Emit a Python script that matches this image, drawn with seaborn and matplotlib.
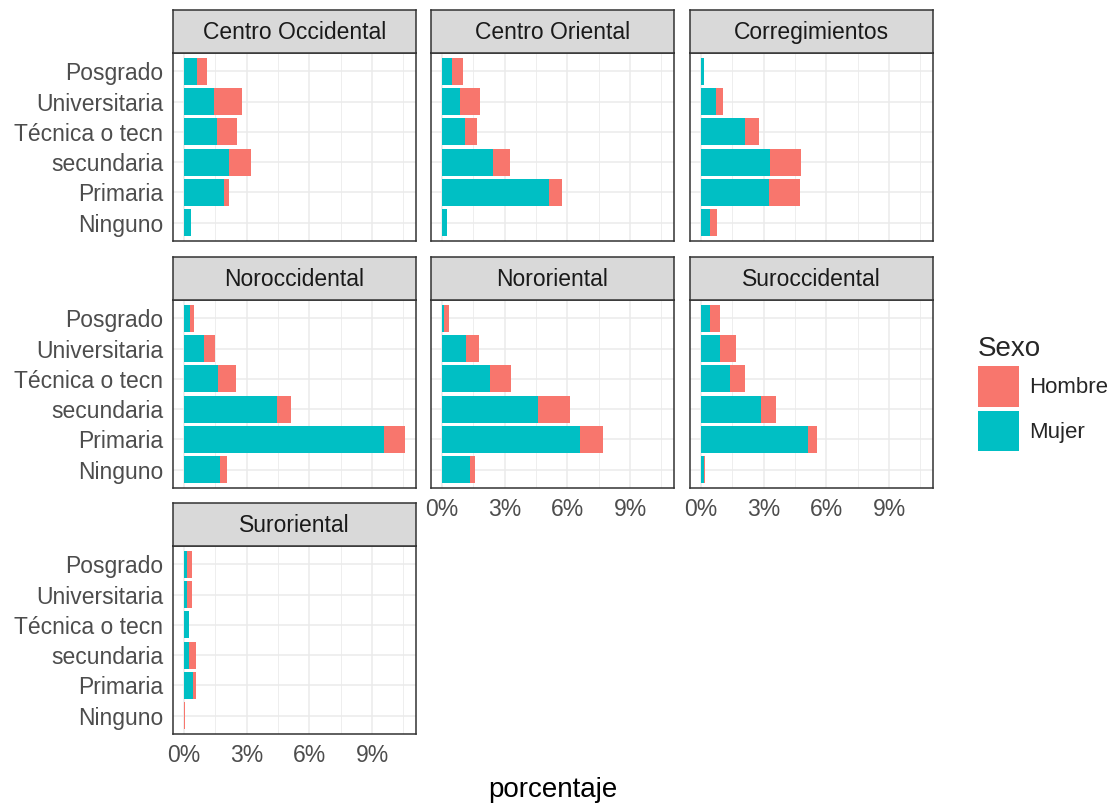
import matplotlib
matplotlib.use("Agg")
import matplotlib.pyplot as plt
from matplotlib.patches import Patch
from matplotlib.ticker import MultipleLocator, PercentFormatter
import pandas as pd
import seaborn as sns

# categorias
comunas = ["Centro Occidental", "Centro Oriental", "Corregimientos",
           "Noroccidental", "Nororiental", "Suroccidental", "Suroriental"]
niveles = ["Posgrado", "Universitaria", "Técnica o tecn",
           "secundaria", "Primaria", "Ninguno"]
sexos = ["Hombre", "Mujer"]

# porcentaje por nivel (mismo orden que niveles)
mujer_centro_occ = [0.64, 1.45, 1.58, 2.15, 1.89, 0.33]
hombre_centro_occ = [0.46, 1.32, 0.95, 1.05, 0.26, 0.00]
mujer_centro_ori = [0.48, 0.84, 1.10, 2.42, 5.14, 0.22]
hombre_centro_ori = [0.52, 0.96, 0.56, 0.83, 0.58, 0.00]
mujer_correg = [0.13, 0.72, 2.10, 3.31, 3.23, 0.45]
hombre_correg = [0.02, 0.35, 0.67, 1.45, 1.50, 0.31]
mujer_norocc = [0.27, 0.96, 1.64, 4.43, 9.57, 1.74]
hombre_norocc = [0.21, 0.54, 0.86, 0.68, 1.00, 0.30]
mujer_norori = [0.10, 1.15, 2.29, 4.60, 6.61, 1.34]
hombre_norori = [0.22, 0.63, 1.02, 1.53, 1.08, 0.24]
mujer_surocc = [0.41, 0.89, 1.40, 2.87, 5.10, 0.14]
hombre_surocc = [0.48, 0.80, 0.70, 0.73, 0.43, 0.03]
mujer_surori = [0.16, 0.16, 0.22, 0.25, 0.45, 0.01]
hombre_surori = [0.22, 0.22, 0.02, 0.31, 0.11, 0.02]

mujer = [mujer_centro_occ, mujer_centro_ori, mujer_correg, mujer_norocc,
         mujer_norori, mujer_surocc, mujer_surori]
hombre = [hombre_centro_occ, hombre_centro_ori, hombre_correg, hombre_norocc,
          hombre_norori, hombre_surocc, hombre_surori]

rows = []
for c, m, h in zip(comunas, mujer, hombre):
    for n, vm, vh in zip(niveles, m, h):
        rows.append({"comuna": c, "nivel": n, "Mujer": vm, "total": vm + vh})
df = pd.DataFrame(rows)

COL_H = "#F8766D"
COL_M = "#00BFC4"
DARK = "#333333"
GRID = "#EBEBEB"

sns.set_style("white")
plt.rcParams["font.family"] = ["Liberation Sans", "DejaVu Sans"]

W, H = 1116, 805
fig = plt.figure(figsize=(W / 100, H / 100), dpi=100)

col_left = [173, 431, 690]
row_top = [53, 300, 546]
pw, ph, sh = 243, 188, 43

xmax = df.total.max() * 1.05
xmin = -df.total.max() * 0.05

for i, c in enumerate(comunas):
    r, k = divmod(i, 3)
    x0, y0 = col_left[k], row_top[r]
    ax = fig.add_axes([x0 / W, 1 - (y0 + ph) / H, pw / W, ph / H])
    sub = df[df.comuna == c]
    sns.barplot(data=sub, y="nivel", x="total", order=niveles, color=COL_H,
                saturation=1, width=0.9, errorbar=None, orient="h", ax=ax,
                linewidth=0)
    sns.barplot(data=sub, y="nivel", x="Mujer", order=niveles, color=COL_M,
                saturation=1, width=0.9, errorbar=None, orient="h", ax=ax,
                linewidth=0)
    ax.set_xlim(xmin, xmax)
    ax.set_ylim(5.6, -0.6)
    ax.set_xlabel("")
    ax.set_ylabel("")
    ax.xaxis.set_major_locator(MultipleLocator(3))
    ax.xaxis.set_minor_locator(MultipleLocator(1.5))
    ax.xaxis.set_major_formatter(PercentFormatter(decimals=0))
    ax.set_axisbelow(True)
    ax.grid(which="major", color=GRID, lw=1.1)
    ax.grid(which="minor", axis="x", color=GRID, lw=0.6)
    for s in ax.spines.values():
        s.set_color(DARK)
        s.set_linewidth(1.1)
    ax.tick_params(which="major", length=4, width=1, color=DARK,
                   labelsize=16.5, labelcolor="#4D4D4D", pad=3)
    ax.tick_params(which="minor", length=0)
    # etiquetas solo en bordes, como facet_wrap
    if k != 0:
        ax.tick_params(axis="y", left=False, labelleft=False)
    bottom = (r == 2) or (r == 1 and k > 0)
    if not bottom:
        ax.tick_params(axis="x", bottom=False, labelbottom=False)

    # franja con el nombre de la comuna
    st = fig.add_axes([x0 / W, 1 - y0 / H, pw / W, sh / H])
    st.set_facecolor("#D9D9D9")
    st.set_xticks([])
    st.set_yticks([])
    for s in st.spines.values():
        s.set_color(DARK)
        s.set_linewidth(1.1)
    st.text(0.5, 0.48, c, ha="center", va="center", fontsize=16.5,
            color="#1A1A1A", transform=st.transAxes)

fig.text(553 / W, 1 - 790 / H, "porcentaje", ha="center", va="center",
         fontsize=20, color="black")

handles = [Patch(facecolor=COL_H, edgecolor="none"),
           Patch(facecolor=COL_M, edgecolor="none")]
leg = fig.legend(handles, sexos, title="Sexo", loc="upper left",
                 bbox_to_anchor=(978 / W, 1 - 336 / H), frameon=False,
                 fontsize=16, title_fontsize=20, handlelength=1.85,
                 handleheight=2.4, labelspacing=0.2, handletextpad=0.45,
                 borderaxespad=0, borderpad=0)
leg._legend_box.align = "left"

fig.savefig("out.png", dpi=100)
